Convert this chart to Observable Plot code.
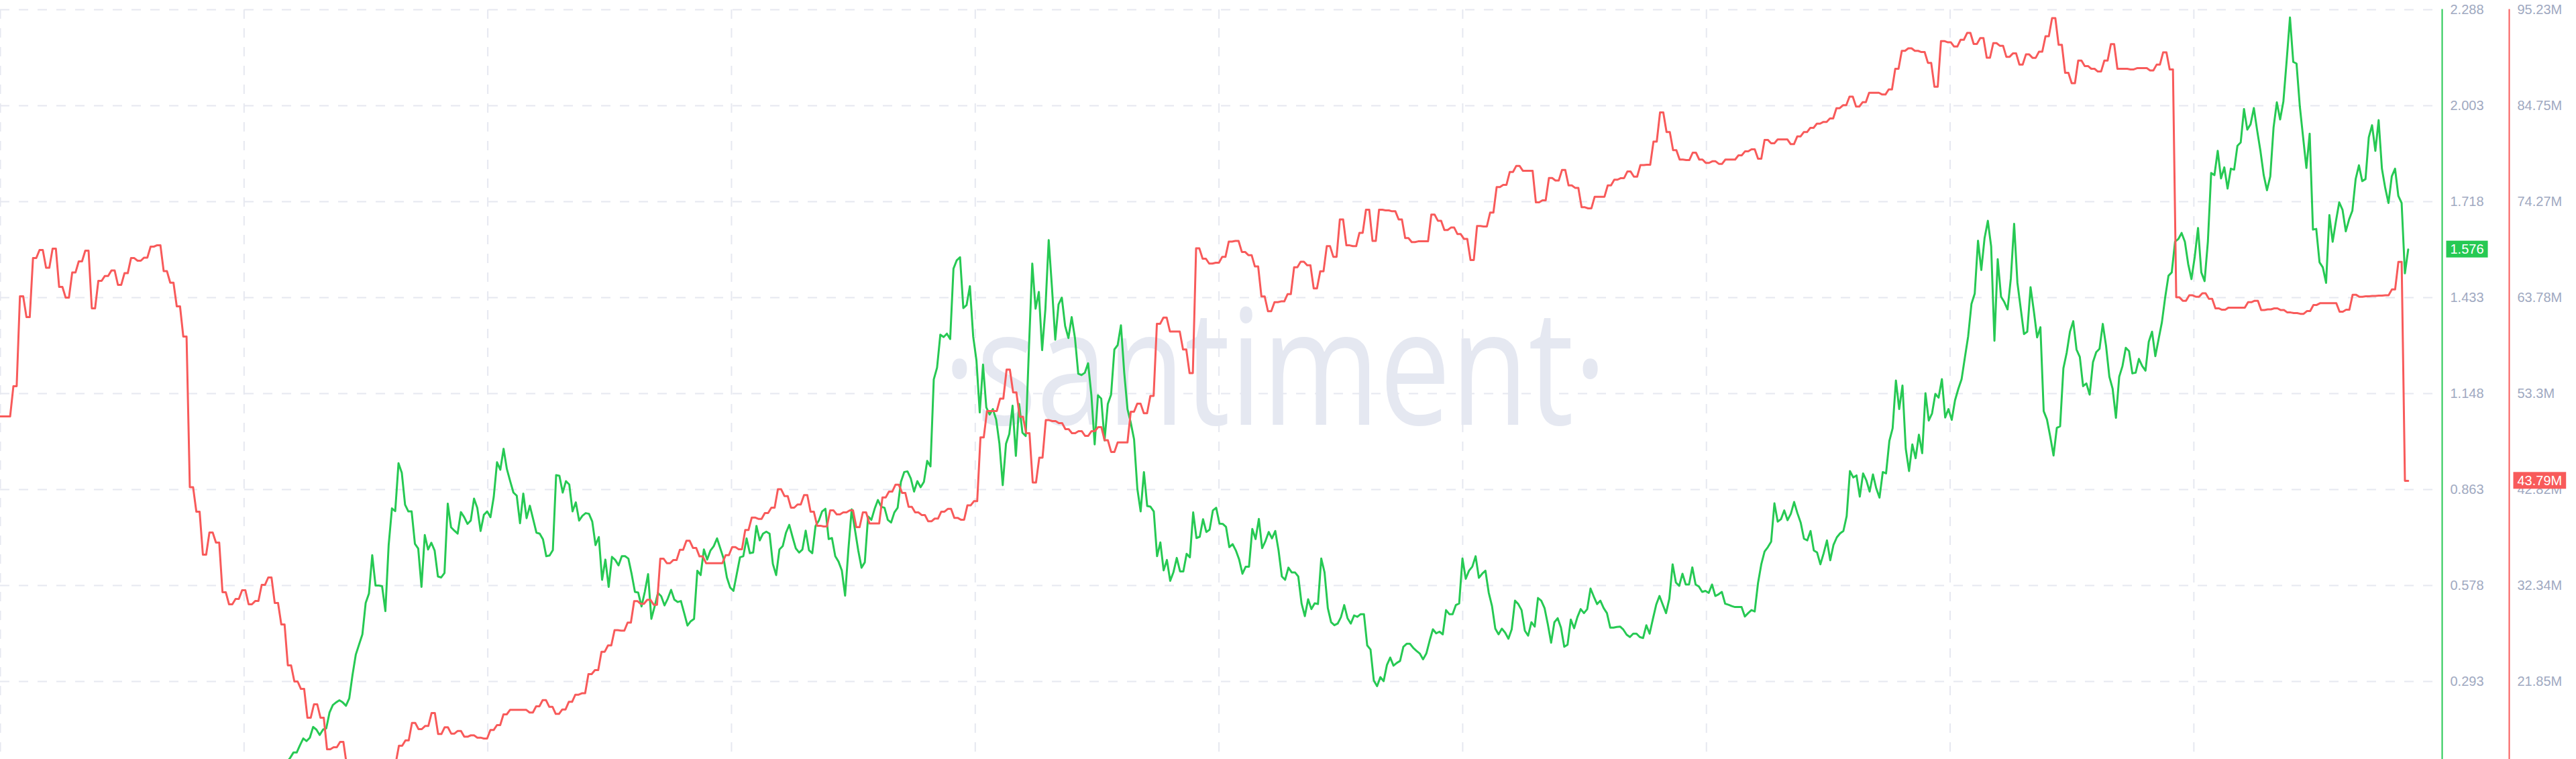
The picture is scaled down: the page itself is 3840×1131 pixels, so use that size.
<!DOCTYPE html>
<html><head><meta charset="utf-8">
<script src="https://cdn.jsdelivr.net/npm/d3@7"></script>
<script src="https://cdn.jsdelivr.net/npm/@observablehq/plot@0.6"></script>
<style>
html,body{margin:0;padding:0;background:#fff;}
#chart{position:relative;width:3840px;height:1131px;overflow:hidden;background:#fff;}
#chart svg{position:absolute;left:0;top:0;}
</style></head><body><div id="chart"></div>
<script>
// ---- axis ticks ----
const greenTicks = [0.293, 0.578, 0.863, 1.148, 1.433, 1.718, 2.003, 2.288];
const redTicks = [21.85, 32.34, 42.82, 53.3, 63.78, 74.27, 84.75, 95.23];
const redTickLabels = ["21.85M", "32.34M", "42.82M", "53.3M", "63.78M", "74.27M", "84.75M", "95.23M"];

// ---- red series: one value per day (millions) ----
const redDaily = [
50.82,50.82,54.12,63.94,61.66,68.11,68.99,67.05,69.14,64.96,63.79,66.53,67.75,68.92,62.62,65.62,66.16,66.75,65.18,66.46,
68.11,67.82,68.16,69.36,69.51,66.68,65.42,62.84,59.54,43.09,40.41,35.72,38.14,37.04,31.62,30.30,30.88,31.84,30.30,30.66,
32.42,33.23,30.44,28.10,23.63,21.87,21.06,17.91,19.38,17.91,14.47,14.69,15.27,
12.8,12.2,11.6,11.9,11.3,11.7,12.1,12.9,
14.86,15.44,17.35,16.67,17.01,18.43,16.13,16.87,16.18,16.47,15.84,15.99,15.74,15.64,16.57,17.11,18.28,18.77,18.77,18.77,
18.48,19.16,19.84,19.11,18.33,18.82,19.65,20.43,20.58,22.68,23.12,25.12,25.81,27.47,27.42,28.30,30.65,30.35,30.79,30.25,
35.29,34.79,35.14,36.26,37.24,36.46,35.53,34.79,34.79,34.79,35.67,36.55,36.31,38.41,39.78,39.63,40.27,40.85,42.86,42.12,
40.85,41.20,42.23,40.42,38.88,38.80,
40.56,40.12,40.34,40.56,38.73,40.34,39.13,39.13,41.97,42.61,43.37,42.47,40.95,40.34,40.05,39.36,39.66,40.42,40.72,39.74,
39.54,41.10,41.56,48.52,51.41,51.41,52.76,55.93,53.44,50.79,48.99,43.60,46.32,50.41,50.31,50.09,49.43,48.99,49.21,48.70,
49.21,49.65,48.21,46.94,47.98,47.98,51.33,52.22,51.17,53.06,60.93,61.61,60.09,60.09,58.13,55.55,69.17,68.04,67.51,67.60,
68.25,69.91,69.98,68.78,68.43,67.19,63.91,62.31,63.29,63.38,64.17,67.10,67.72,67.32,64.80,66.66,69.41,68.25,72.33,69.50,
69.41,70.87,73.39,69.98,73.39,73.32,73.22,72.33,70.29,69.85,69.94,69.94,72.86,72.19,71.17,71.44,70.73,70.20,67.90,71.62,
71.56,73.08,75.87,76.11,77.51,78.18,77.65,77.65,74.19,74.41,76.85,76.58,77.73,76.05,75.78,73.66,73.54,74.81,74.81,76.05,
76.67,76.84,
77.56,77.00,78.27,78.30,80.83,84.01,81.87,79.90,78.87,78.82,79.62,78.87,78.50,78.68,78.40,78.87,78.87,79.33,79.76,79.99,
78.96,81.02,80.65,81.06,81.06,80.55,81.39,81.87,82.33,82.79,82.98,83.36,84.48,84.80,85.74,84.66,85.13,86.16,86.16,85.97,
86.53,88.78,90.74,91.02,90.74,90.61,89.43,86.82,91.81,91.68,91.21,91.95,92.70,91.49,92.14,89.99,91.58,91.30,90.09,90.46,
89.24,
90.35,89.98,90.65,92.34,94.31,91.40,88.34,87.21,89.68,89.08,88.78,88.48,89.68,91.47,88.78,88.78,88.71,88.85,88.85,88.60,
89.23,90.58,88.71,63.82,63.45,64.04,63.89,64.27,63.67,62.62,62.47,62.70,62.70,62.70,63.29,63.45,62.43,62.51,62.62,62.43,
62.17,62.10,62.02,62.32,62.99,63.18,63.18,63.18,62.25,62.47,64.11,63.89,63.94,63.97,64.01,64.04,64.68,67.70,43.79
];

// ---- green series: one value per half day ----
const greenHalfDaily = [
0.054,0.066,0.082,0.082,0.104,0.124,0.116,0.126,0.158,0.150,0.134,0.150,0.154,0.201,0.223,0.231,0.237,0.231,0.221,0.243,
0.313,0.373,0.403,0.433,0.526,0.554,0.668,0.578,0.578,0.576,0.502,0.698,0.807,0.799,0.941,0.913,
0.818,0.798,0.798,0.702,0.688,0.574,0.728,0.685,0.705,0.682,0.605,0.602,0.615,0.821,0.751,0.741,0.732,0.796,0.781,0.761,
0.771,0.836,0.808,0.740,0.788,0.798,0.781,0.841,0.944,0.922,0.984,0.924,0.888,0.854,0.845,0.763,0.851,0.778,0.815,0.775,
0.735,0.732,0.715,0.665,0.667,0.683,0.906,0.904,0.854,0.888,0.878,0.798,0.825,0.771,0.785,0.793,0.791,0.768,0.698,0.722,
0.595,0.655,0.574,0.663,0.654,0.638,0.665,0.665,0.658,0.612,0.559,0.557,0.516,0.559,0.612,0.479,0.516,0.556,0.546,0.519,
0.539,0.565,0.536,0.529,0.532,0.496,0.459,0.472,0.479,0.622,0.609,0.685,0.655,0.682,0.695,0.718,0.688,0.658,0.602,0.572,
0.562,0.612,0.662,0.665,0.718,0.674,0.676,0.755,0.712,0.732,0.738,0.732,0.642,0.609,0.685,0.695,0.735,0.758,0.722,0.688,
0.676,0.685,0.741,0.683,0.674,0.755,0.771,0.798,
0.806,0.716,0.719,0.665,0.649,0.623,0.548,0.685,0.804,0.744,0.682,0.631,0.647,0.783,0.773,0.806,0.832,0.812,0.809,0.773,
0.765,0.795,0.809,0.886,0.915,0.917,0.896,0.857,0.888,0.870,0.886,0.948,0.932,1.190,1.225,1.323,1.316,1.326,1.310,1.519,
1.544,1.553,1.402,1.411,1.467,1.318,1.246,1.092,1.234,1.107,1.086,1.102,1.071,0.999,0.876,0.999,1.028,1.112,0.963,1.117,
1.032,1.022,1.287,1.534,1.400,1.450,1.277,1.400,1.604,1.462,1.308,1.413,1.433,1.349,1.313,1.375,1.313,1.207,1.203,1.210,
1.238,1.143,0.997,1.143,1.133,1.009,1.117,1.145,1.279,1.292,1.351,1.210,1.102,1.061,1.012,0.865,0.798,0.915,0.814,0.812,
0.798,0.665,0.706,0.623,0.654,0.592,0.618,0.660,0.620,0.620,0.672,0.662,0.795,0.719,0.723,0.775,0.737,0.744,0.801,0.809,
0.762,
0.761,0.752,0.692,0.701,0.682,0.655,0.613,0.634,0.634,0.746,0.716,0.776,0.689,0.710,0.737,0.718,0.740,0.682,0.605,0.595,
0.631,0.617,0.617,0.605,0.525,0.487,0.537,0.508,0.525,0.523,0.658,0.617,0.511,0.469,0.460,0.465,0.484,0.520,0.481,0.465,
0.489,0.485,0.493,0.493,0.400,0.388,0.296,0.279,0.306,0.294,0.342,0.364,0.340,0.348,0.354,0.396,0.405,0.405,0.393,0.384,
0.376,0.359,0.376,0.414,0.448,0.436,0.441,0.433,0.505,0.493,0.493,0.520,0.525,0.658,0.598,0.622,0.634,0.665,0.601,0.613,
0.622,0.557,0.517,0.450,0.433,0.450,0.438,0.420,0.448,0.533,0.523,0.505,0.444,0.429,0.469,0.456,0.541,0.533,0.511,0.463,
0.408,0.469,0.481,0.453,0.396,0.402,0.477,0.451,0.484,0.508,0.496,0.508,0.569,0.545,0.523,0.533,0.511,0.496,0.453,0.453,
0.455,0.456,
0.447,0.432,0.425,0.435,0.435,0.425,0.422,0.460,0.435,0.479,0.521,0.547,0.521,0.496,0.539,0.641,0.587,0.577,0.613,0.581,
0.581,0.632,0.581,0.575,0.559,0.562,0.556,0.581,0.547,0.552,0.559,0.524,0.521,0.517,0.514,0.514,0.514,0.486,0.496,0.505,
0.501,0.585,0.641,0.679,0.692,0.708,0.822,0.768,0.775,0.801,0.772,0.791,0.826,0.793,0.765,0.717,0.712,0.740,0.682,0.676,
0.641,0.674,0.712,0.653,0.699,0.721,0.733,0.740,0.784,0.918,0.899,0.905,0.842,0.911,0.890,0.857,0.908,0.867,0.839,0.915,
0.911,1.007,1.045,1.187,1.102,1.172,0.984,0.918,0.997,0.956,1.026,0.971,1.149,1.068,1.089,1.147,1.136,1.191,1.077,1.102,
1.070,1.128,1.162,1.191,1.255,1.318,1.414,1.445,1.602,1.515,1.610,1.661,1.585,1.305,1.547,1.436,1.420,1.398,1.490,1.652,
1.477,1.401,1.325,
1.332,1.464,1.393,1.315,1.345,1.096,1.071,1.020,0.964,1.046,1.051,1.223,1.269,1.332,1.363,1.279,1.257,1.170,1.178,1.145,
1.241,1.271,1.281,1.355,1.289,1.198,1.162,1.076,1.198,1.230,1.284,1.274,1.208,1.210,1.251,1.230,1.216,1.302,1.332,1.259,
1.310,1.360,1.434,1.498,1.508,1.599,1.607,1.625,1.599,1.533,1.488,1.554,1.640,1.508,1.482,1.599,1.803,1.797,1.869,1.787,
1.820,1.757,1.816,1.813,1.884,1.894,1.993,1.932,1.948,1.996,1.930,1.869,1.797,1.752,1.793,1.938,2.013,1.962,2.016,2.138,
2.265,2.133,2.128,2.001,1.909,1.818,1.920,1.635,1.637,1.538,1.523,1.477,1.678,1.599,1.660,1.716,1.694,1.630,1.665,1.691,
1.785,1.826,1.779,1.785,1.909,1.945,1.869,1.960,1.816,1.759,1.714,1.793,1.816,1.735,1.714,1.505,1.576
];

// ---- time layout (days) ----
const greenFirstDay = 43.85;        // green series starts later than red
const xDomainEnd = 373.7;           // visible time span in days
const xGridStep = 37.3;             // vertical grid spacing in days
const greenDomain = [0.0618, 2.288];
const redDomain = [13.37, 95.23];

// ---- build tables ----
const lastDay = redDaily.length - 0.5;
const redPoints = redDaily.flatMap((v, d) => [{t: d, v}, {t: d + 0.5, v}]);
const gStep = (lastDay - greenFirstDay) / (greenHalfDaily.length - 1);
const greenPoints = greenHalfDaily.map((v, j) => ({t: greenFirstDay + j * gStep, v}));
const xGridDays = d3.range(0, 10).map(k => k * xGridStep);
const greenLast = greenHalfDaily[greenHalfDaily.length - 1];
const redLast = redDaily[redDaily.length - 1];

const GREEN = "#26c953", RED = "#f85a5a", GRID = "#e6e8f0", LABEL = "#a0a9c1", WATER = "#e5e8f1";
const FONT = "'Liberation Sans', Arial, sans-serif";
const W = 3840, H = 1131;
const common = {width: W, height: H, marginLeft: 0, marginTop: 14, marginBottom: 0};

const plotG = Plot.plot({
  ...common, marginRight: 200,
  style: {background: "white", fontFamily: FONT, fontSize: "20px"},
  x: {domain: [0, xDomainEnd], range: [0, 3640], axis: null, label: null},
  y: {domain: greenDomain, axis: null, label: null},
  marks: [
    Plot.gridY(greenTicks, {stroke: GRID, strokeOpacity: 1, strokeWidth: 2, strokeDasharray: "14,14"}),
    Plot.gridX(xGridDays, {stroke: GRID, strokeOpacity: 1, strokeWidth: 2, strokeDasharray: "14,14"}),
    Plot.text(["\u00b7santiment\u00b7"], {text: d => d, frameAnchor: "middle", dx: 80, dy: -17, fontSize: 240, fill: WATER, fontFamily: "Open Sans"}),
    Plot.line(greenPoints, {x: "t", y: "v", stroke: GREEN, strokeWidth: 3, clip: true}),
    Plot.frame({anchor: "right", stroke: GREEN, strokeWidth: 2}),
    Plot.axisY(greenTicks, {anchor: "right", label: null, tickSize: 0, tickPadding: 12, tickFormat: d3.format(".3f"), fill: LABEL, fontSize: 20}),
    Plot.text([greenLast], {y: d => d, text: d => d3.format(".3f")(d), frameAnchor: "right", dx: 12, textAnchor: "start", fill: "white", fontSize: 20})
  ]
});

const plotR = Plot.plot({
  ...common, marginRight: 100,
  style: {background: "transparent", fontFamily: FONT, fontSize: "20px"},
  x: {domain: [0, xDomainEnd], range: [0, 3640], axis: null, label: null},
  y: {domain: redDomain, axis: null, label: null},
  marks: [
    Plot.line(redPoints, {x: "t", y: "v", stroke: RED, strokeWidth: 3, clip: true}),
    Plot.frame({anchor: "right", stroke: RED, strokeWidth: 2}),
    Plot.axisY(redTicks, {anchor: "right", label: null, tickSize: 0, tickPadding: 12, tickFormat: d => redTickLabels[redTicks.indexOf(d)], fill: LABEL, fontSize: 20}),
    Plot.text([redLast], {y: d => d, text: d => d3.format(".2f")(d) + "M", frameAnchor: "right", dx: 12, textAnchor: "start", fill: "white", fontSize: 20})
  ]
});

const chart = document.getElementById("chart");
chart.appendChild(plotG);
chart.appendChild(plotR);

function addBox(svg, txt, color) {
  const t = Array.from(svg.querySelectorAll("text")).filter(e => e.textContent === txt).pop();
  if (!t) return;
  const b = t.getBBox();
  const r = document.createElementNS("http://www.w3.org/2000/svg", "rect");
  const cy = b.y + b.height / 2;
  r.setAttribute("x", b.x - 6);
  r.setAttribute("y", cy - 12.5);
  r.setAttribute("width", b.width + 12);
  r.setAttribute("height", 25);
  r.setAttribute("fill", color);
  r.setAttribute("stroke", "none");
  const tr = t.getAttribute("transform");
  if (tr) r.setAttribute("transform", tr);
  t.parentNode.insertBefore(r, t);
}
addBox(plotG, d3.format(".3f")(greenLast), GREEN);
addBox(plotR, d3.format(".2f")(redLast) + "M", RED);

const wm = Array.from(plotG.querySelectorAll("text")).find(e => e.textContent === "\u00b7santiment\u00b7");
if (wm) { wm.setAttribute("textLength", 990); wm.setAttribute("lengthAdjust", "spacingAndGlyphs"); }
</script>
</body></html>
